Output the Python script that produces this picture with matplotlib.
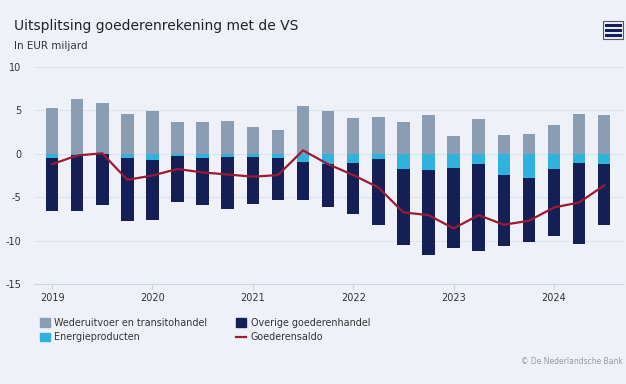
import matplotlib
matplotlib.use("Agg")
import matplotlib.pyplot as plt
from matplotlib.patches import Rectangle, Patch
from matplotlib.lines import Line2D
import numpy as np

plt.rcParams["axes.unicode_minus"] = False

quarters = ["2019Q1","2019Q2","2019Q3","2019Q4","2020Q1","2020Q2","2020Q3","2020Q4",
            "2021Q1","2021Q2","2021Q3","2021Q4","2022Q1","2022Q2","2022Q3","2022Q4",
            "2023Q1","2023Q2","2023Q3","2023Q4","2024Q1","2024Q2","2024Q3"]
wederuitvoer = [5.3, 6.3, 5.85, 4.6, 4.95, 3.65, 3.6, 3.8, 3.1, 2.75, 5.45, 4.95,
                4.15, 4.2, 3.7, 4.5, 2.0, 3.95, 2.2, 2.3, 3.35, 4.6, 4.5]
energie = [-0.5, -0.1, -0.05, -0.54, -0.77, -0.27, -0.54, -0.34, -0.34, -0.54, -0.92, -1.18,
           -1.03, -0.65, -1.72, -1.84, -1.65, -1.23, -2.45, -2.8, -1.72, -1.03, -1.18]
overige = [-6.1, -6.5, -5.85, -7.2, -6.89, -5.25, -5.36, -5.98, -5.45, -4.79, -4.41, -4.95,
           -5.9, -7.59, -8.82, -9.76, -9.15, -9.96, -8.2, -7.39, -7.78, -9.35, -7.06]
saldo = [-1.2, -0.2, 0.05, -3.0, -2.5, -1.75, -2.15, -2.38, -2.64, -2.45, 0.38, -1.2,
         -2.45, -3.87, -6.74, -7.05, -8.58, -7.05, -8.16, -7.7, -6.17, -5.6, -3.64]
year_labels = ["2019", "2020", "2021", "2022", "2023", "2024"]

c_wed = "#8a9db3"
c_en = "#2fb2dd"
c_ov = "#141f55"
c_line = "#9c1a32"
bg = "#eef2f8"
txt = "#333333"

fig = plt.figure(figsize=(6.26, 3.84), dpi=100, facecolor=bg)
ax = fig.add_axes([34/626, 1-284.3/384, (623-34)/626, (284.3-66.7)/384])
ax.set_facecolor(bg)

x = np.arange(len(quarters))
w = 0.5
ax.bar(x, wederuitvoer, width=w, color=c_wed, zorder=2)
ax.bar(x, energie, width=w, color=c_en, zorder=2)
ax.bar(x, overige, width=w, bottom=energie, color=c_ov, zorder=2)
ax.plot(x, saldo, color=c_line, lw=1.6, zorder=3)

ax.set_ylim(-15, 10)
ax.set_xlim(-0.72, 22.75)
ax.set_yticks([-15, -10, -5, 0, 5, 10])
ax.set_xticks([0, 4, 8, 12, 16, 20])
ax.set_xticklabels(year_labels)
ax.grid(axis="y", color="#dde3ec", lw=0.8, zorder=0)
for s in ["top", "right", "left"]:
    ax.spines[s].set_visible(False)
ax.spines["bottom"].set_color("#ccd6e0")
ax.spines["bottom"].set_linewidth(0.8)
ax.tick_params(axis="y", length=0, pad=9, labelsize=7, labelcolor=txt)
ax.tick_params(axis="x", length=4, color="#ccd6e0", pad=2, labelsize=7, labelcolor=txt)

fig.text(14/626, 1-26/384, "Uitsplitsing goederenrekening met de VS", fontsize=10,
         color="#222222", va="center", ha="left")
fig.text(14/626, 1-46/384, "In EUR miljard", fontsize=7.5, color=txt, va="center", ha="left")
fig.text(623/626, 1-362/384, "\u00a9 De Nederlandsche Bank", fontsize=5.5, color="#999999",
         va="center", ha="right")

# menu icon
fig.patches.append(Rectangle((603/626, 1-39/384), 20/626, 18/384, transform=fig.transFigure,
                             facecolor="none", edgecolor="#555566", lw=0.8))
for yy in [25, 30, 35]:
    fig.add_artist(Line2D([606/626, 620/626], [1-yy/384, 1-yy/384], transform=fig.transFigure,
                          color=c_ov, lw=2.2))

handles = [Patch(color=c_wed), Patch(color=c_en), Patch(color=c_ov), Line2D([], [], color=c_line, lw=1.6)]
labels = ["Wederuitvoer en transitohandel", "Energieproducten", "Overige goederenhandel", "Goederensaldo"]
leg = fig.legend(handles, labels, ncol=2, loc="upper left", bbox_to_anchor=(40/626, 1-318/384),
                 frameon=False, fontsize=6.9, handlelength=1.0, handleheight=1.0,
                 handletextpad=0.5, columnspacing=3.0, labelspacing=0.45, borderaxespad=0,
                 borderpad=0)
for t in leg.get_texts():
    t.set_color(txt)

fig.savefig("out.png", dpi=100, facecolor=bg)
